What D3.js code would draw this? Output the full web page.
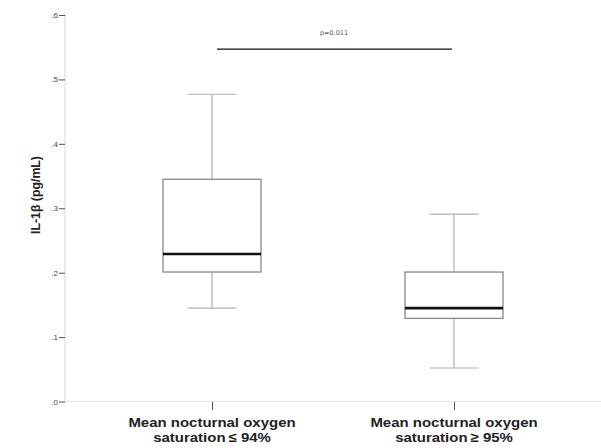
<!DOCTYPE html>
<html><head><meta charset="utf-8">
<script src="https://cdn.jsdelivr.net/npm/d3@7"></script>
<style>body{margin:0;background:#fff}svg{display:block}</style>
</head><body>
<svg id="c" width="601" height="448"></svg>
<script>
const categories = ["Mean nocturnal oxygen|saturation\u2009\u2264 94%", "Mean nocturnal oxygen|saturation\u2009\u2265 95%"];
const whiskerLow = [0.145, 0.052];
const q1 = [0.201, 0.129];
const median = [0.229, 0.145];
const q3 = [0.345, 0.201];
const whiskerHigh = [0.477, 0.291];
const yTicks = [0, 0.1, 0.2, 0.3, 0.4, 0.5, 0.6];
const yTickLabels = [".0", ".1", ".2", ".3", ".4", ".5", ".6"];
const sigValue = 0.547;
const sigLabel = "p=0.011";

const svg = d3.select("#c");
const y = d3.scaleLinear().domain([0, 0.6]).range([401.5, 15]);
const x = d3.scalePoint().domain(categories).range([212, 454]);
const boxW = 98, capW = 49;

// axes
svg.append("line").attr("x1",65).attr("x2",65).attr("y1",12).attr("y2",401.5).attr("stroke","#d8d8d8").attr("stroke-width",1);
svg.append("line").attr("x1",65).attr("x2",601).attr("y1",401.5).attr("y2",401.5).attr("stroke","#e4e4e4").attr("stroke-width",1);

const yAxis = d3.axisLeft(y).tickValues(yTicks).tickFormat((d,i)=>yTickLabels[i]).tickSize(6).tickPadding(1);
const ga = svg.append("g").attr("transform","translate(65,0)").call(yAxis);
ga.select(".domain").remove();
ga.selectAll(".tick line").attr("stroke","#555");
ga.selectAll(".tick text").attr("font-family","Liberation Sans, Arial, sans-serif").attr("font-size",8).attr("fill","#444");

const xAxis = d3.axisBottom(x).tickSize(8).tickFormat("");
const gx = svg.append("g").attr("transform","translate(0,402)").call(xAxis);
gx.select(".domain").remove();
gx.selectAll(".tick line").attr("stroke","#555");

// x labels
categories.forEach(c=>{
  const parts = c.split("|");
  [427, 442].forEach((by, k)=>{
    svg.append("g").attr("transform",`translate(${x(c)},${by}) scale(1.11,1)`)
      .append("text").attr("x",0).attr("y",0).attr("text-anchor","middle")
      .attr("font-family","Liberation Sans, Arial, sans-serif").attr("font-weight","bold").attr("font-size",13.5).attr("fill","#222")
      .text(parts[k]);
  });
});

// y label
svg.append("text").attr("transform","translate(40,195) rotate(-90)").attr("text-anchor","middle")
  .attr("font-family","Liberation Sans, Arial, sans-serif").attr("font-weight","bold").attr("font-size",12.3).attr("fill","#222")
  .text("IL-1\u03b2 (pg/mL)");

// boxes
categories.forEach((c,i)=>{
  const cx = x(c);
  const g = svg.append("g");
  g.append("line").attr("x1",cx).attr("x2",cx).attr("y1",y(q3[i])).attr("y2",y(whiskerHigh[i])).attr("stroke","#b0b0b0").attr("stroke-width",1.2);
  g.append("line").attr("x1",cx).attr("x2",cx).attr("y1",y(q1[i])).attr("y2",y(whiskerLow[i])).attr("stroke","#b0b0b0").attr("stroke-width",1.2);
  g.append("line").attr("x1",cx-capW/2).attr("x2",cx+capW/2).attr("y1",y(whiskerHigh[i])).attr("y2",y(whiskerHigh[i])).attr("stroke","#b0b0b0").attr("stroke-width",1.2);
  g.append("line").attr("x1",cx-capW/2).attr("x2",cx+capW/2).attr("y1",y(whiskerLow[i])).attr("y2",y(whiskerLow[i])).attr("stroke","#b0b0b0").attr("stroke-width",1.2);
  g.append("rect").attr("x",cx-boxW/2).attr("y",y(q3[i])).attr("width",boxW).attr("height",y(q1[i])-y(q3[i]))
    .attr("fill","none").attr("stroke","#888").attr("stroke-width",1.3);
  g.append("line").attr("x1",cx-boxW/2).attr("x2",cx+boxW/2).attr("y1",y(median[i])).attr("y2",y(median[i])).attr("stroke","#111").attr("stroke-width",2.6);
});

// significance
svg.append("line").attr("x1",217).attr("x2",452).attr("y1",y(sigValue)).attr("y2",y(sigValue)).attr("stroke","#111").attr("stroke-width",1.3);
svg.append("text").attr("x",334).attr("y",35).attr("text-anchor","middle")
  .attr("font-family","DejaVu Sans, sans-serif").attr("font-size",6.5).attr("fill","#555").text(sigLabel);
</script>
</body></html>
